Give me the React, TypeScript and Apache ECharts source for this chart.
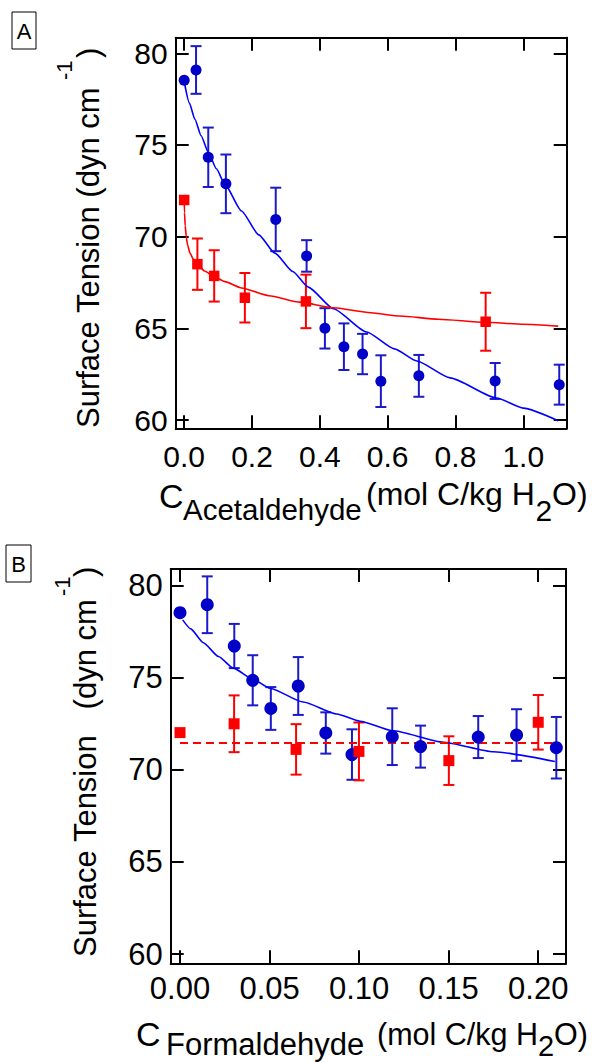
import React, { useEffect, useRef } from "react";
import * as echarts from "echarts";

// ---------- Panel A : acetaldehyde ----------
const acetBlueX = [0.0, 0.035, 0.071, 0.123, 0.27, 0.361, 0.415, 0.471, 0.526, 0.58, 0.692, 0.917, 1.106];
const acetBlueY = [78.53, 79.09, 74.33, 72.88, 70.94, 68.95, 65.0, 64.0, 63.6, 62.12, 62.41, 62.13, 61.93];
const acetBlueErr = [0, 1.3, 1.62, 1.6, 1.73, 0.86, 1.1, 1.27, 1.1, 1.41, 1.14, 0.98, 1.09];

const acetRedX = [0.0, 0.039, 0.0885, 0.179, 0.359, 0.889];
const acetRedY = [72.0, 68.5, 67.86, 66.67, 66.47, 65.36];
const acetRedErr = [0, 1.4, 1.4, 1.35, 1.46, 1.58];

const acetBlueFitX = [0.002, 0.015, 0.0316, 0.05, 0.071, 0.095, 0.12, 0.169, 0.22, 0.2676, 0.32, 0.366, 0.44, 0.538, 0.62, 0.686, 0.784, 0.9215, 1.0, 1.103];
const acetBlueFitY = [78.27, 77.3, 76.4, 75.5, 74.6, 73.7, 72.85, 71.4, 70.1, 69.1, 68.1, 67.25, 66.07, 64.8, 63.88, 63.22, 62.3, 61.2, 60.65, 59.96];

const acetRedFitX = [0.0, 0.001, 0.003, 0.006, 0.01, 0.017, 0.027, 0.038, 0.06, 0.09, 0.12, 0.169, 0.25, 0.341, 0.44, 0.55, 0.637, 0.75, 0.887, 1.0, 1.103];
const acetRedFitY = [72.0, 71.3, 70.6, 70.0, 69.55, 69.1, 68.78, 68.52, 68.13, 67.8, 67.55, 67.2, 66.78, 66.43, 66.12, 65.85, 65.67, 65.5, 65.33, 65.22, 65.12];

// ---------- Panel B : formaldehyde ----------
const formBlueX = [0.0, 0.0152, 0.0303, 0.0406, 0.0507, 0.066, 0.0814, 0.096, 0.1185, 0.1343, 0.1665, 0.1879, 0.2101];
const formBlueY = [78.53, 78.96, 76.72, 74.86, 73.33, 74.55, 72.0, 70.83, 71.8, 71.26, 71.78, 71.89, 71.2];
const formBlueErr = [0, 1.54, 1.2, 1.36, 1.16, 1.57, 1.12, 1.37, 1.54, 1.14, 1.14, 1.4, 1.67];

const formRedX = [0.0, 0.0302, 0.0648, 0.0999, 0.1501, 0.2];
const formRedY = [72.02, 72.5, 71.11, 71.0, 70.5, 72.58];
const formRedErr = [0, 1.54, 1.37, 1.57, 1.32, 1.48];

const formBlueFitX = [0.0015, 0.006, 0.013, 0.0215, 0.0298, 0.041, 0.0502, 0.0688, 0.0875, 0.1005, 0.119, 0.147, 0.175, 0.2093];
const formBlueFitY = [78.14, 77.65, 76.9, 76.15, 75.52, 74.9, 74.43, 73.68, 73.03, 72.64, 72.12, 71.5, 70.98, 70.45];

const formRedMeanX = [0.0, 0.211];
const formRedMeanY = [71.45, 71.45];

// ---------- ticks ----------
const acetXTicks = [0, 0.2, 0.4, 0.6, 0.8, 1.0];
const formXTicks = [0, 0.05, 0.1, 0.15, 0.2];
const yTicks = [60, 65, 70, 75, 80];

const FONT = "'Liberation Sans', Arial, Helvetica, sans-serif";
const BLUE_MK = "#0000c8";
const BLUE_ERR = "#1a1ac8";
const BLUE_LINE = "#0000ff";
const RED = "#ff0000";

const zip2 = (xs: number[], ys: number[]) => xs.map((x, i) => [x, ys[i]]);
const zip3 = (xs: number[], ys: number[], es: number[]) => xs.map((x, i) => [x, ys[i], es[i]]);

const axisLine = { show: true, onZero: false, lineStyle: { color: "#000", width: 2 } };

function xAxisPair(gridIndex: number, min: number, max: number, ticks: number[], digits: number, fontSize: number, margin: number) {
  const base = {
    type: "value",
    gridIndex,
    min,
    max,
    axisLine,
    splitLine: { show: false },
    axisTick: { show: true, inside: true, length: 13, lineStyle: { color: "#000", width: 2 }, customValues: ticks },
  };
  return [
    {
      ...base,
      position: "bottom",
      axisLabel: {
        show: true,
        customValues: ticks,
        formatter: (v: number) => v.toFixed(digits),
        fontSize,
        fontFamily: FONT,
        color: "#000",
        margin,
      },
    },
    { ...base, position: "top", axisLabel: { show: false } },
  ];
}

function yAxisPair(gridIndex: number, min: number, max: number, fontSize: number) {
  const base = {
    type: "value",
    gridIndex,
    min,
    max,
    axisLine,
    splitLine: { show: false },
    axisTick: { show: true, inside: true, length: 13, lineStyle: { color: "#000", width: 2 }, customValues: yTicks },
  };
  return [
    {
      ...base,
      position: "left",
      axisLabel: {
        show: true,
        customValues: yTicks,
        formatter: (v: number) => String(Math.round(v)),
        fontSize,
        fontFamily: FONT,
        color: "#000",
        margin: 8,
      },
    },
    { ...base, position: "right", axisLabel: { show: false } },
  ];
}

function errorSeries(xIdx: number, yIdx: number, data: number[][], color: string) {
  return {
    type: "custom",
    xAxisIndex: xIdx,
    yAxisIndex: yIdx,
    z: 2,
    data,
    encode: { x: 0, y: 1 },
    renderItem: (params: any, api: any) => {
      const x = api.value(0);
      const y = api.value(1);
      const e = api.value(2);
      if (!e) return { type: "group", children: [] };
      const top = api.coord([x, y + e]);
      const bot = api.coord([x, y - e]);
      const hw = 5.5;
      const st = { stroke: color, lineWidth: 2 };
      return {
        type: "group",
        children: [
          { type: "line", shape: { x1: top[0], y1: top[1], x2: bot[0], y2: bot[1] }, style: st },
          { type: "line", shape: { x1: top[0] - hw, y1: top[1], x2: top[0] + hw, y2: top[1] }, style: st },
          { type: "line", shape: { x1: bot[0] - hw, y1: bot[1], x2: bot[0] + hw, y2: bot[1] }, style: st },
        ],
      };
    },
  };
}

function scatter(xIdx: number, yIdx: number, data: number[][], symbol: string, size: number, color: string) {
  return {
    type: "scatter",
    xAxisIndex: xIdx,
    yAxisIndex: yIdx,
    z: 5,
    symbol,
    symbolSize: size,
    itemStyle: { color, opacity: 1 },
    data,
  };
}

function fitLine(xIdx: number, yIdx: number, data: number[][], color: string, dashed = false) {
  return {
    type: "line",
    xAxisIndex: xIdx,
    yAxisIndex: yIdx,
    z: 3,
    showSymbol: false,
    symbol: "none",
    smooth: dashed ? false : 0.2,
    smoothMonotone: "x",
    lineStyle: { color, width: dashed ? 2 : 1.6, type: dashed ? [8, 5] : "solid" },
    data,
  };
}

function txt(x: number, y: number, text: string, fontSize: number, extra: any = {}) {
  return {
    type: "text",
    x,
    y,
    z: 10,
    ...extra,
    style: {
      text,
      fontSize,
      fontFamily: FONT,
      fill: "#000",
      align: "left",
      verticalAlign: "middle",
      ...(extra.style || {}),
    },
  };
}

const R = Math.PI / 2;

export default function App() {
  const ref = useRef<HTMLDivElement>(null);
  useEffect(() => {
    const chart = echarts.init(ref.current!, null, { renderer: "svg" });
    const option: any = {
      animation: false,
      backgroundColor: "#fff",
      grid: [
        { left: 175.7, top: 37.7, width: 391, height: 390.6, containLabel: false },
        { left: 170.7, top: 569, width: 395.3, height: 394.3, containLabel: false },
      ],
      xAxis: [
        ...xAxisPair(0, -0.025, 1.128, acetXTicks, 1, 30, 13),
        ...xAxisPair(1, -0.0052, 0.2155, formXTicks, 2, 31, 10),
      ],
      yAxis: [
        ...yAxisPair(0, 59.55, 80.85, 30),
        ...yAxisPair(1, 59.5, 80.9, 31),
      ],
      series: [
        // Panel A
        errorSeries(0, 0, zip3(acetBlueX, acetBlueY, acetBlueErr), BLUE_ERR),
        errorSeries(0, 0, zip3(acetRedX, acetRedY, acetRedErr), RED),
        fitLine(0, 0, zip2(acetBlueFitX, acetBlueFitY), BLUE_LINE),
        fitLine(0, 0, zip2(acetRedFitX, acetRedFitY), RED),
        scatter(0, 0, zip2(acetBlueX, acetBlueY), "circle", 11, BLUE_MK),
        scatter(0, 0, zip2(acetRedX, acetRedY), "rect", 10.5, RED),
        // Panel B
        errorSeries(2, 2, zip3(formBlueX, formBlueY, formBlueErr), BLUE_ERR),
        errorSeries(2, 2, zip3(formRedX, formRedY, formRedErr), RED),
        fitLine(2, 2, zip2(formBlueFitX, formBlueFitY), BLUE_LINE),
        fitLine(2, 2, zip2(formRedMeanX, formRedMeanY), RED, true),
        scatter(2, 2, zip2(formBlueX, formBlueY), "circle", 13, BLUE_MK),
        scatter(2, 2, zip2(formRedX, formRedY), "rect", 11, RED),
      ],
      graphic: [
        // panel letters
        { type: "rect", shape: { x: 12, y: 12, width: 24, height: 37 }, style: { fill: "none", stroke: "#000", lineWidth: 1 } },
        txt(24, 31, "A", 22, { style: { align: "center" } }),
        { type: "rect", shape: { x: 6, y: 545, width: 25, height: 37 }, style: { fill: "none", stroke: "#000", lineWidth: 1 } },
        txt(18.5, 564, "B", 22, { style: { align: "center" } }),
        // y titles panel A
        txt(88, 428, "Surface Tension (dyn cm", 31, { rotation: R }),
        txt(64, 80, "-1", 22, { rotation: R }),
        txt(88, 58, ")", 31, { rotation: R }),
        // y titles panel B
        txt(85, 957, "Surface Tension   (dyn cm", 31, { rotation: R }),
        txt(62, 596, "-1", 22, { rotation: R }),
        txt(85, 577, ")", 31, { rotation: R }),
        // x title panel A
        txt(159, 496, "C", 34),
        txt(183, 509.5, "Acetaldehyde", 29.5),
        txt(366, 494, "(mol C/kg H", 32),
        txt(535.5, 510, "2", 30),
        txt(552, 494, "O)", 32),
        // x title panel B
        txt(136, 1034, "C", 34),
        txt(166, 1044, "Formaldehyde", 31),
        txt(377, 1034, "(mol C/kg H", 30.5),
        txt(538, 1046, "2", 29),
        txt(554, 1034, "O)", 30.5),
      ],
    };
    chart.setOption(option);
    return () => chart.dispose();
  }, []);
  return (
    <div
      ref={ref}
      style={{ position: "absolute", left: 0, top: 0, width: 592, height: 1062, background: "#fff" }}
    />
  );
}
